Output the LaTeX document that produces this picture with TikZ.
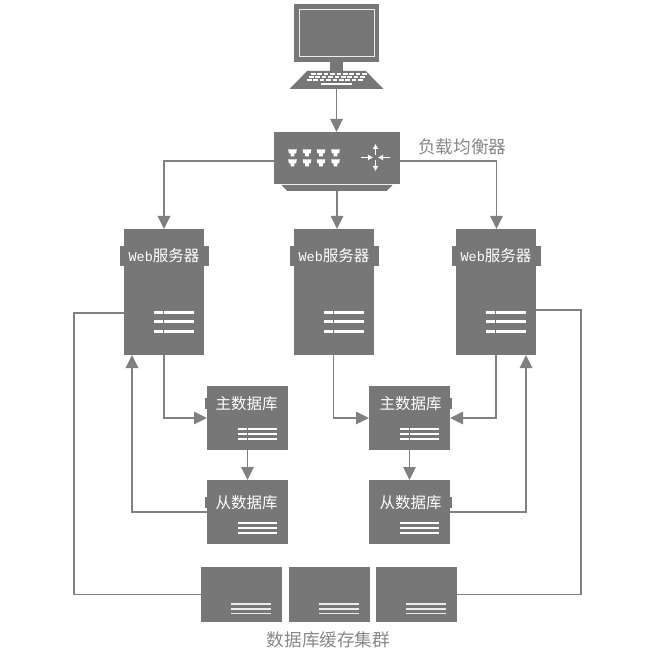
\documentclass[tikz,border=0pt]{standalone}
\usepackage{fontspec}
\usepackage{xcolor}
\usetikzlibrary{arrows.meta, positioning, shapes.geometric, calc}
\setmainfont{Noto Sans CJK SC}
\newfontfamily\webfont{Liberation Mono}
\definecolor{boxGray}{RGB}{119,119,119}
\definecolor{lineGray}{RGB}{128,128,128}
\definecolor{labelGray}{RGB}{136,136,136}
\newcommand{\webtext}{{\webfont\fontsize{13.5}{16}\selectfont Web}服务器}
\tikzset{
    grayblock/.style={
        rectangle,
        fill=boxGray,
        inner sep=0pt,
        outer sep=0pt
    },
    serverbox/.style={grayblock, minimum width=80pt, minimum height=126pt},
    dbbox/.style={grayblock, minimum width=81pt, minimum height=64pt},
    cachebox/.style={grayblock, minimum width=81pt, minimum height=55pt},
    tabtext/.style={
        grayblock,
        text=white,
        minimum height=20pt,
        font=\fontsize{15.5}{18}\selectfont
    },
    dbtab/.style={tabtext, minimum width=83pt, minimum height=0pt, text height=11pt, text depth=0pt},
    trapblock/.style={
        trapezium,
        fill=boxGray,
        inner xsep=3pt,
        inner ysep=1pt,
        outer sep=0pt,
        trapezium stretches=true
    },
    flowarrow/.style={-{Triangle[length=13pt,width=12.5pt]}, line width=1.6pt, draw=lineGray},
    plainline/.style={line width=1.6pt, draw=lineGray},
    pointer/.style={-{Latex[length=5pt,width=6pt]}, draw=white, line width=1.4pt},
    caption/.style={text=labelGray, inner sep=0pt, font=\fontsize{17.6}{20}\selectfont}
}
\begin{document}
\begin{tikzpicture}[x=1pt, y=-1pt]
    \useasboundingbox (0,0) rectangle (656,652);
    % terminal
    \node[grayblock, minimum width=85pt, minimum height=58pt] (screen) at (336.5,33) {};
    \node[draw=white!85!boxGray, line width=0.8pt, inner sep=0pt, outer sep=0pt, minimum width=75pt, minimum height=46.5pt] (glass) at (screen.center) {};
    \node[grayblock, minimum width=13pt, minimum height=9pt, below=0pt of screen] (neck) {};
    \node[trapblock, trapezium angle=48, minimum width=94pt, minimum height=18pt, below=0pt of neck] (keyboard) {};
    \foreach \rowy/\rowx in {74/311, 77/309, 80/307}
        \foreach \k in {0,...,8}
            \draw[white, line width=2.2pt] (\rowx+\k*6.4,\rowy) -- ++(4.6,0);
    \draw[white, line width=1.2pt] (321,84) -- (352,84);
    % balancer
    \node[grayblock, minimum width=126pt, minimum height=52pt] (balancer) at (337,158) {};
    \node[trapblock, shape border rotate=180, trapezium angle=80, minimum width=111pt, minimum height=6pt, below=1pt of balancer] (stand) {};
    \foreach \px in {292.5,307,321,335.5}
        \foreach \py in {149.5,159.5}
            \fill[white] (\px-4.3,\py) -- (\px+4.3,\py) -- (\px+3.6,\py+4) -- (\px+1.8,\py+4) -- (\px+1.8,\py+7) -- (\px-1.8,\py+7) -- (\px-1.8,\py+4) -- (\px-3.6,\py+4) -- cycle;
    \draw[pointer] (361,157.5) -- (373,157.5);
    \draw[pointer] (390,157.5) -- (378,157.5);
    \draw[pointer] (375.5,155) -- (375.5,144);
    \draw[pointer] (375.5,160) -- (375.5,171);
    \node[caption, anchor=west] (balancerlabel) at (418,147) {负载均衡器};
    % web servers
    \node[serverbox] (webA) at (164,292) {};
    \node[serverbox, right=90pt of webA] (webB) {};
    \node[serverbox, right=82pt of webB] (webC) {};
    \foreach \srv in {webA,webB,webC} {
        \node[tabtext, minimum width=89pt] (\srv tab) at ($(\srv.center)+(0,-36)$) {\webtext};
        \foreach \dy in {21,30,40}
            \draw[white, line width=3pt] ($(\srv.center)+(-10,\dy)$) -- ++(40,0);
        \draw[boxGray, line width=1pt] ($(\srv.center)+(-0.5,18)$) -- ++(0,25);
    }
    % databases
    \node[dbbox] (masterA) at (247.5,418) {};
    \node[dbbox, below=30pt of masterA] (slaveA) {};
    \node[dbbox] (masterB) at (409.5,418) {};
    \node[dbbox, below=30pt of masterB] (slaveB) {};
    \node[dbtab, xshift=-1pt, below=12pt of masterA.north] (masterAtab) {主数据库};
    \node[dbtab, xshift=-1pt, below=17pt of slaveA.north] (slaveAtab) {从数据库};
    \node[dbtab, xshift=1pt, below=12pt of masterB.north] (masterBtab) {主数据库};
    \node[dbtab, xshift=1pt, below=17pt of slaveB.north] (slaveBtab) {从数据库};
    \foreach \db in {masterA,slaveA,masterB,slaveB}
        \foreach \dy in {11,16,21}
            \draw[white, line width=2pt] ($(\db.center)+(-9.5,\dy)$) -- ++(39,0);
    \foreach \db in {masterA,masterB}
        \draw[boxGray, line width=1pt] ($(\db.center)+(0,9)$) -- ++(0,14);
    % cache cluster
    \node[cachebox] (cacheA) at (241.5,594.5) {};
    \node[cachebox, right=6.5pt of cacheA] (cacheB) {};
    \node[cachebox, right=6.5pt of cacheB] (cacheC) {};
    \foreach \cache in {cacheA,cacheB,cacheC}
        \foreach \dy in {9.5,14.5,19}
            \draw[white!85!boxGray, line width=1.6pt] ($(\cache.center)+(-10.5,\dy)$) -- ++(40,0);
    \node[caption] (cachelabel) at (328.5,640) {数据库缓存集群};
    % connectors
    \draw[flowarrow] (keyboard.south) -- (keyboard.south |- balancer.north);
    \draw[flowarrow] ($(balancer.west)+(0,3)$) -| (webA.north);
    \draw[flowarrow] (stand.south) -- (stand.south |- webB.north);
    \draw[flowarrow] ($(balancer.east)+(0,3)$) -| ($(webC.north)+(0.5,0)$);
    \draw[flowarrow] (webA.south) |- (masterA.west);
    \draw[flowarrow] ($(webB.south)+(-0.5,0)$) |- (masterB.west);
    \draw[flowarrow] (webC.south) |- (masterB.east);
    \draw[flowarrow] (masterA) -- (slaveA);
    \draw[flowarrow] (masterB) -- (slaveB);
    \draw[flowarrow] (slaveA.west) -| ($(webA.south)+(-32,0)$);
    \draw[flowarrow] (slaveB.east) -| ($(webC.south)+(30,0)$);
    \draw[plainline] ($(webA.west)+(0,21)$) -- ++(-50,0) |- (cacheA.west);
    \draw[plainline] ($(webC.east)+(0,18)$) -- ++(45,0) |- (cacheC.east);
\end{tikzpicture}
\end{document}
